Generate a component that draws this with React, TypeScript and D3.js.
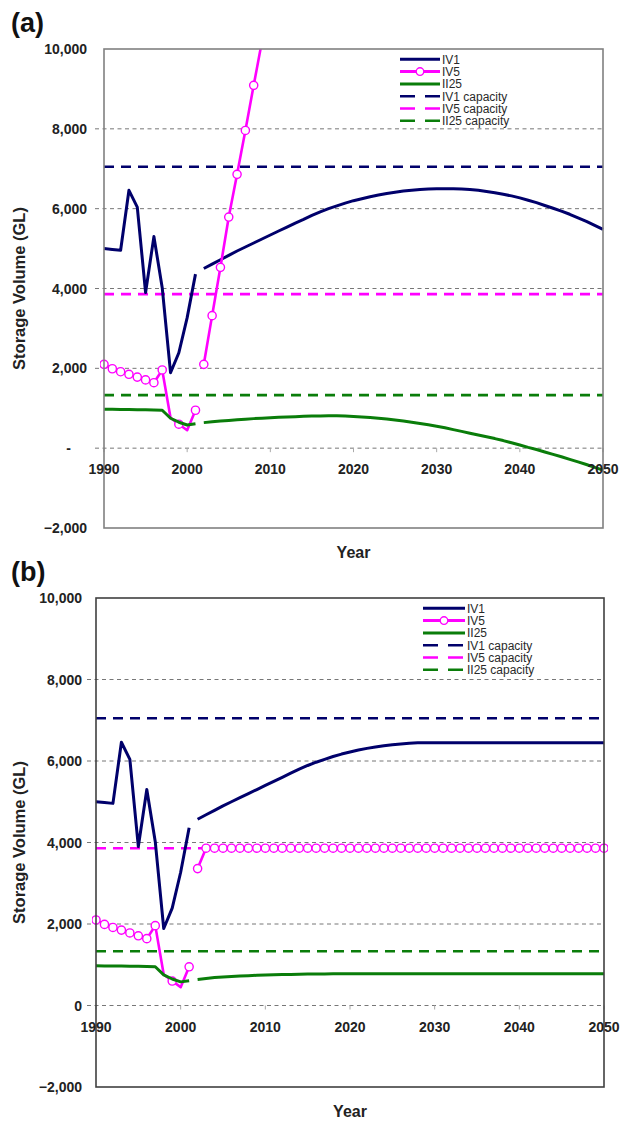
import React from "react";
import * as d3 from "d3";

// categories
const histYears = d3.range(1990, 2002);
const projYears = d3.range(2002, 2051);
const iv5YearsA = d3.range(2002, 2010);

// observed period (same in both panels)
const iv1Hist = [5000, 4980, 4960, 6460, 6040, 3900, 5300, 4020, 1890, 2390, 3270, 4360];
const iv5Hist = [2100, 1990, 1915, 1850, 1780, 1710, 1640, 1960, 760, 600, 450, 950];
const ii25Hist = [975, 972, 970, 968, 965, 962, 958, 950, 750, 650, 580, 610];
const iv5NoMarker = [1998, 2000];

// panel (a) projections
const iv1ProjA = [
  4500, 4610, 4720, 4830, 4940, 5040, 5140, 5240, 5340, 5440,
  5540, 5640, 5730, 5830, 5920, 6000, 6070, 6140, 6200, 6250,
  6300, 6340, 6380, 6410, 6440, 6460, 6480, 6490, 6500, 6500,
  6500, 6490, 6480, 6460, 6430, 6400, 6360, 6320, 6270, 6210,
  6150, 6080, 6010, 5940, 5860, 5770, 5680, 5580, 5480,
];
const iv5ProjA = [2100, 3320, 4530, 5790, 6860, 7960, 9090, 10200];
const ii25ProjA = [
  640, 660, 680, 695, 710, 725, 740, 752, 763, 773,
  782, 790, 797, 803, 807, 810, 810, 805, 795, 782,
  768, 750, 730, 705, 680, 650, 618, 585, 550, 510,
  465, 420, 375, 330, 285, 240, 190, 135, 80, 20,
  -35, -95, -155, -215, -280, -345, -410, -480, -550,
];

// panel (b) projections
const iv1ProjB = [
  4570, 4680, 4790, 4900, 5000, 5100, 5200, 5300, 5400, 5500,
  5600, 5700, 5800, 5890, 5970, 6040, 6110, 6170, 6220, 6270,
  6310, 6345, 6375, 6400, 6420, 6435, 6445, 6450, 6450, 6450,
  6450, 6450, 6450, 6450, 6450, 6450, 6450, 6450, 6450, 6450,
  6450, 6450, 6450, 6450, 6450, 6450, 6450, 6450, 6450,
];
const iv5ProjB = [
  3360, 3860, 3860, 3860, 3860, 3860, 3860, 3860, 3860, 3860,
  3860, 3860, 3860, 3860, 3860, 3860, 3860, 3860, 3860, 3860,
  3860, 3860, 3860, 3860, 3860, 3860, 3860, 3860, 3860, 3860,
  3860, 3860, 3860, 3860, 3860, 3860, 3860, 3860, 3860, 3860,
  3860, 3860, 3860, 3860, 3860, 3860, 3860, 3860, 3860,
];
const ii25ProjB = [
  640, 665, 685, 700, 713, 724, 733, 741, 748, 754,
  759, 763, 767, 770, 773, 775, 777, 778, 779, 780,
  780, 780, 780, 780, 780, 780, 780, 780, 780, 780,
  780, 780, 780, 780, 780, 780, 780, 780, 780, 780,
  780, 780, 780, 780, 780, 780, 780, 780, 780,
];

const iv1Capacity = 7050;
const iv5Capacity = 3860;
const ii25Capacity = 1330;

const yTicks = [-2000, 0, 2000, 4000, 6000, 8000, 10000];
const xTicks = [1990, 2000, 2010, 2020, 2030, 2040, 2050];
const legendLabels = ["IV1", "IV5", "II25", "IV1 capacity", "IV5 capacity", "II25 capacity"];

const NAVY = "#00006b";
const MAGENTA = "#ff00ff";
const GREEN = "#0a7d0a";
const FONT = "'Liberation Sans', Arial, sans-serif";

const zip = (years: number[], vals: number[]) => years.map((yr, i) => [yr, vals[i]] as [number, number]);

function Panel(props: any) {
  const { id, letter, box, labelRight, legendX, legendY, legendLen, dashZero, border, iv1Proj, iv5Proj, iv5Years, ii25Proj } = props;
  const x = d3.scaleLinear().domain([1990, 2050]).range([box.left, box.right]);
  const y = d3.scaleLinear().domain([-2000, 10000]).range([box.bottom, box.top]);
  const line = d3.line<[number, number]>().x((d) => x(d[0])).y((d) => y(d[1]));

  const iv5Pts = [...zip(histYears, iv5Hist), ...zip(iv5Years, iv5Proj)].filter((d) => !iv5NoMarker.includes(d[0]));
  const caps = [
    { v: iv1Capacity, c: NAVY },
    { v: iv5Capacity, c: MAGENTA },
    { v: ii25Capacity, c: GREEN },
  ];
  const y0 = y(0);
  const cx = (box.left + box.right) / 2;
  const cy = (box.top + box.bottom) / 2;

  return (
    <g fontFamily={FONT}>
      <defs>
        <clipPath id={id}>
          <rect x={box.left - 4} y={box.top} width={box.right - box.left + 8} height={box.bottom - box.top} />
        </clipPath>
      </defs>
      <text x={11} y={box.top - 17} fontSize={27} fontWeight="bold" fill="#111">{letter}</text>

      {/* grid */}
      {yTicks.filter((t) => t > -2000 && t < 10000).map((t) => (
        <line key={t} x1={box.left - 9} x2={box.right} y1={y(t)} y2={y(t)} stroke="#777" strokeWidth={1} strokeDasharray="4,3.5" />
      ))}
      {xTicks.map((t) => (
        <line key={t} x1={x(t)} x2={x(t)} y1={y0} y2={y0 + 4} stroke="#aaa" strokeWidth={1} />
      ))}

      {/* capacity lines */}
      {caps.map((c) => (
        <line key={c.v} x1={box.left} x2={box.right} y1={y(c.v)} y2={y(c.v)} stroke={c.c} strokeWidth={2.6} strokeDasharray="10,7" />
      ))}

      <g clipPath={`url(#${id})`} fill="none" strokeLinejoin="round">
        <path d={line(zip(histYears, iv1Hist)) as string} stroke={NAVY} strokeWidth={3} />
        <path d={line(zip(projYears, iv1Proj)) as string} stroke={NAVY} strokeWidth={3} />
        <path d={line(zip(histYears, iv5Hist)) as string} stroke={MAGENTA} strokeWidth={2.6} />
        <path d={line(zip(iv5Years, iv5Proj)) as string} stroke={MAGENTA} strokeWidth={2.6} />
        {iv5Pts.map((d) => (
          <circle key={d[0]} cx={x(d[0])} cy={y(d[1])} r={4.1} fill="#fff" stroke={MAGENTA} strokeWidth={1.4} />
        ))}
        <path d={line(zip(histYears, ii25Hist)) as string} stroke={GREEN} strokeWidth={3} />
        <path d={line(zip(projYears, ii25Proj)) as string} stroke={GREEN} strokeWidth={3} />
      </g>

      {/* frame */}
      <rect x={box.left} y={box.top} width={box.right - box.left} height={box.bottom - box.top} fill="none" stroke={border} strokeWidth={1.6} />

      {/* y tick labels */}
      {yTicks.map((t) => (
        <text key={t} x={t === 0 && dashZero ? labelRight - 16 : labelRight} y={y(t)} dy="0.36em" textAnchor="end" fontSize={14} fontWeight="bold" fill="#222">
          {t === 0 && dashZero ? "-" : d3.format(",")(t)}
        </text>
      ))}
      {/* x tick labels */}
      {xTicks.map((t) => (
        <text key={t} x={x(t)} y={y0 + 26} textAnchor="middle" fontSize={14} fontWeight="bold" fill="#222">{t}</text>
      ))}

      <text transform={`translate(25,${cy}) rotate(-90)`} textAnchor="middle" fontSize={16.5} fontWeight="bold" fill="#222">Storage Volume (GL)</text>
      <text x={cx} y={box.bottom + 30} textAnchor="middle" fontSize={16} fontWeight="bold" fill="#222">Year</text>

      {/* legend */}
      {legendLabels.map((lab, i) => {
        const ly = legendY + i * 12.3;
        const col = [NAVY, MAGENTA, GREEN][i % 3];
        const dashed = i >= 3;
        return (
          <g key={lab}>
            <line x1={legendX} x2={legendX + legendLen} y1={ly} y2={ly} stroke={col} strokeWidth={dashed ? 2.6 : 3} strokeDasharray={dashed ? "15,10" : undefined} />
            {i === 1 && <circle cx={legendX + legendLen / 2} cy={ly} r={3.8} fill="#fff" stroke={MAGENTA} strokeWidth={1.4} />}
            <text x={legendX + legendLen + 2} y={ly} dy="0.36em" fontSize={12} fill="#2a2a2a">{lab}</text>
          </g>
        );
      })}
    </g>
  );
}

export default function App() {
  return (
    <svg width={625} height={1124} style={{ position: "absolute", left: 0, top: 0, background: "#fff" }}>
      <rect width={625} height={1124} fill="#fff" />
      <Panel
        id="clipA"
        letter="(a)"
        box={{ left: 104, right: 603, top: 49, bottom: 528 }}
        labelRight={87}
        legendX={400}
        legendY={59.3}
        legendLen={40}
        dashZero={true}
        border="#808080"
        iv1Proj={iv1ProjA}
        iv5Proj={iv5ProjA}
        iv5Years={iv5YearsA}
        ii25Proj={ii25ProjA}
      />
      <Panel
        id="clipB"
        letter="(b)"
        box={{ left: 96, right: 604, top: 598, bottom: 1087 }}
        labelRight={82}
        legendX={423}
        legendY={608.3}
        legendLen={42}
        dashZero={false}
        border="#404040"
        iv1Proj={iv1ProjB}
        iv5Proj={iv5ProjB}
        iv5Years={projYears}
        ii25Proj={ii25ProjB}
      />
    </svg>
  );
}
